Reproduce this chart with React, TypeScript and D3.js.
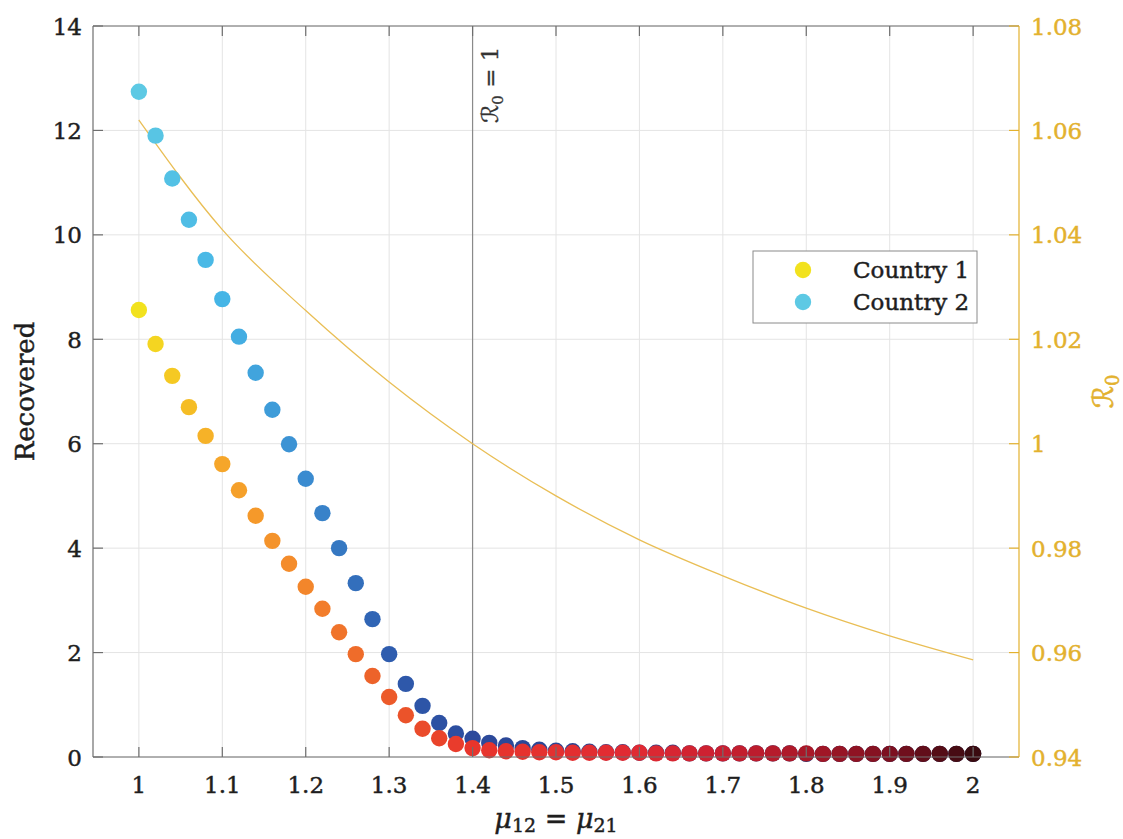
import React from 'react';
import * as d3 from 'd3';

// ---------- data ----------
const mu = [
  1.0, 1.02, 1.04, 1.06, 1.08, 1.1, 1.12, 1.14, 1.16, 1.18,
  1.2, 1.22, 1.24, 1.26, 1.28, 1.3, 1.32, 1.34, 1.36, 1.38,
  1.4, 1.42, 1.44, 1.46, 1.48, 1.5, 1.52, 1.54, 1.56, 1.58,
  1.6, 1.62, 1.64, 1.66, 1.68, 1.7, 1.72, 1.74, 1.76, 1.78,
  1.8, 1.82, 1.84, 1.86, 1.88, 1.9, 1.92, 1.94, 1.96, 1.98, 2.0,
];
const country1 = [
  8.56, 7.91, 7.3, 6.7, 6.15, 5.61, 5.11, 4.62, 4.14, 3.7,
  3.26, 2.84, 2.39, 1.97, 1.55, 1.15, 0.8, 0.54, 0.36, 0.25,
  0.17, 0.13, 0.11, 0.1, 0.09, 0.09, 0.08, 0.08, 0.08, 0.08,
  0.08, 0.07, 0.07, 0.07, 0.07, 0.07, 0.07, 0.07, 0.07, 0.07,
  0.07, 0.06, 0.06, 0.06, 0.06, 0.06, 0.06, 0.06, 0.06, 0.06, 0.06,
];
const country2 = [
  12.74, 11.9, 11.08, 10.29, 9.52, 8.77, 8.05, 7.36, 6.65, 5.99,
  5.33, 4.67, 4.0, 3.33, 2.64, 1.97, 1.4, 0.98, 0.65, 0.45,
  0.35, 0.27, 0.22, 0.17, 0.14, 0.12, 0.11, 0.1, 0.09, 0.09,
  0.08, 0.08, 0.08, 0.07, 0.07, 0.07, 0.07, 0.07, 0.07, 0.07,
  0.06, 0.06, 0.06, 0.06, 0.06, 0.06, 0.06, 0.06, 0.06, 0.06, 0.06,
];
const muR0 = [1.0, 1.1, 1.2, 1.3, 1.4, 1.5, 1.6, 1.7, 1.8, 1.9, 2.0];
const r0 = [1.062, 1.041, 1.0255, 1.0118, 1.0, 0.99, 0.9816, 0.9747, 0.9685, 0.9632, 0.9586];

const xTicks = [1, 1.1, 1.2, 1.3, 1.4, 1.5, 1.6, 1.7, 1.8, 1.9, 2];
const xTickLabels = ['1', '1.1', '1.2', '1.3', '1.4', '1.5', '1.6', '1.7', '1.8', '1.9', '2'];
const yTicks = [0, 2, 4, 6, 8, 10, 12, 14];
const yTickLabels = ['0', '2', '4', '6', '8', '10', '12', '14'];
const rTicks = [0.94, 0.96, 0.98, 1.0, 1.02, 1.04, 1.06, 1.08];
const rTickLabels = ['0.94', '0.96', '0.98', '1', '1.02', '1.04', '1.06', '1.08'];
const thresholdMu = 1.4;
const seriesNames = ['Country 1', 'Country 2'];

// ---------- styles ----------
const c1Stops = [1.0, 1.03, 1.1, 1.2, 1.3, 1.4, 1.6, 1.7, 1.8, 1.9, 2.0];
const c1Colors = ['#f2e21e', '#f5cf22', '#f6a62a', '#f3862b', '#ec5a2a', '#e8352c', '#e02a33', '#c91f30', '#a91828', '#7d1020', '#3a0b10'];
const c2Stops = [1.0, 1.1, 1.2, 1.3, 1.4, 1.7, 2.0];
const c2Colors = ['#5dc9e4', '#45b5e6', '#3a8bd0', '#2e5cae', '#2c4a9c', '#283c80', '#1a1e50'];
const GOLD = '#E3B12E';
const LINEGOLD = '#E9BE55';
const FONT = '"DejaVu Serif", "Liberation Serif", serif';
const CAL = '"DejaVu Serif", "DejaVu Sans", serif';

export default function App() {
  const W = 1123, H = 839;
  const left = 93, right = 1019, top = 26, bottom = 757;
  const x = d3.scaleLinear().domain([0.945, 2.055]).range([left, right]);
  const y = d3.scaleLinear().domain([0, 14]).range([bottom, top]);
  const yr = d3.scaleLinear().domain([0.94, 1.08]).range([bottom, top]);
  const col1 = d3.scaleLinear<string>().domain(c1Stops).range(c1Colors).interpolate(d3.interpolateRgb);
  const col2 = d3.scaleLinear<string>().domain(c2Stops).range(c2Colors).interpolate(d3.interpolateRgb);
  const line = d3.line<number>().x((_, i) => x(muR0[i])).y((d) => yr(d)).curve(d3.curveMonotoneX);
  const R = 8.2;
  const tick = 10;
  const axisCol = '#6e6e6e';
  const gridCol = '#e4e4e4';
  const textCol = '#1e1e1e';
  const thick = 0.45;

  return (
    <div style={{ position: 'absolute', left: 0, top: 0 }}>
      <svg width={W} height={H} style={{ display: 'block', background: '#fff' }}>
        {/* grid */}
        <g stroke={gridCol} strokeWidth={1}>
          {xTicks.map((t) => (
            <line key={'gx' + t} x1={x(t)} x2={x(t)} y1={top} y2={bottom} />
          ))}
          {yTicks.map((t) => (
            <line key={'gy' + t} x1={left} x2={right} y1={y(t)} y2={y(t)} />
          ))}
        </g>
        {/* threshold line */}
        <line x1={x(thresholdMu)} x2={x(thresholdMu)} y1={top} y2={bottom} stroke="#8a8a8a" strokeWidth={1.2} />
        <text transform={`translate(${x(thresholdMu) + 25},123) rotate(-90)`} fontFamily={CAL} fontSize={23} fill="#333" stroke="#333" strokeWidth={0.3}>
          <tspan fontStyle="italic">ℛ</tspan>
          <tspan fontSize={15} dy={5}>0</tspan>
          <tspan dy={-5}> = 1</tspan>
        </text>
        {/* R0 line */}
        <path d={line(r0) || ''} fill="none" stroke={LINEGOLD} strokeWidth={1.3} />
        {/* dots */}
        <g>
          {country2.map((v, i) => (
            <circle key={'c2' + i} cx={x(mu[i])} cy={y(v)} r={R} fill={col2(mu[i])} />
          ))}
          {country1.map((v, i) => (
            <circle key={'c1' + i} cx={x(mu[i])} cy={y(v)} r={R} fill={col1(mu[i])} />
          ))}
        </g>
        {/* axes box */}
        <g stroke={axisCol} strokeWidth={1.2} fill="none">
          <line x1={left} x2={right} y1={top} y2={top} />
          <line x1={left} x2={right} y1={bottom} y2={bottom} />
          <line x1={left} x2={left} y1={top} y2={bottom} />
          {xTicks.map((t) => (
            <g key={'xt' + t}>
              <line x1={x(t)} x2={x(t)} y1={bottom} y2={bottom - tick} />
              <line x1={x(t)} x2={x(t)} y1={top} y2={top + tick} />
            </g>
          ))}
          {yTicks.map((t) => (
            <line key={'yt' + t} x1={left} x2={left + tick} y1={y(t)} y2={y(t)} />
          ))}
        </g>
        <g stroke={GOLD} strokeWidth={1.2}>
          <line x1={right} x2={right} y1={top} y2={bottom} />
          {rTicks.map((t) => (
            <line key={'rt' + t} x1={right} x2={right - tick} y1={yr(t)} y2={yr(t)} />
          ))}
        </g>
        {/* tick labels */}
        <g fontFamily={FONT} fontSize={23} fill={textCol} stroke={textCol} strokeWidth={thick}>
          {xTicks.map((t, i) => (
            <text key={'xl' + t} x={x(t)} y={793} textAnchor="middle">{xTickLabels[i]}</text>
          ))}
          {yTicks.map((t, i) => (
            <text key={'yl' + t} x={82} y={y(t) + 8.5} textAnchor="end">{yTickLabels[i]}</text>
          ))}
        </g>
        <g fontFamily={FONT} fontSize={23} fill={GOLD} stroke={GOLD} strokeWidth={thick}>
          {rTicks.map((t, i) => (
            <text key={'rl' + t} x={1031} y={yr(t) + 8.5} textAnchor="start">{rTickLabels[i]}</text>
          ))}
        </g>
        {/* axis labels */}
        <text transform={`translate(34,${(top + bottom) / 2}) rotate(-90)`} textAnchor="middle" fontFamily={FONT} fontSize={26} fill={textCol} stroke={textCol} strokeWidth={thick}>Recovered</text>
        <text x={(left + right) / 2} y={828} textAnchor="middle" fontFamily={FONT} fontSize={27} fill={textCol} stroke={textCol} strokeWidth={thick}>
          <tspan fontStyle="italic">μ</tspan>
          <tspan fontSize={19} dy={4}>12</tspan>
          <tspan dy={-4}> = </tspan>
          <tspan fontStyle="italic">μ</tspan>
          <tspan fontSize={19} dy={4}>21</tspan>
        </text>
        <text transform={`translate(1113,${(top + bottom) / 2}) rotate(-90)`} textAnchor="middle" fontFamily={CAL} fontSize={28} fill={GOLD} stroke={GOLD} strokeWidth={0.6}>
          <tspan fontStyle="italic">ℛ</tspan>
          <tspan fontSize={18} dy={6}>0</tspan>
        </text>
        {/* legend */}
        <g>
          <rect x={753} y={251} width={224} height={72} fill="#fff" stroke="#8a8a8a" strokeWidth={1} />
          {seriesNames.map((n, i) => (
            <g key={n}>
              <circle cx={803} cy={270 + i * 32} r={R} fill={i === 0 ? col1(mu[0]) : col2(mu[0])} />
              <text x={853} y={278 + i * 32} fontFamily={FONT} fontSize={23} fill={textCol} stroke={textCol} strokeWidth={thick}>{n}</text>
            </g>
          ))}
        </g>
      </svg>
    </div>
  );
}
